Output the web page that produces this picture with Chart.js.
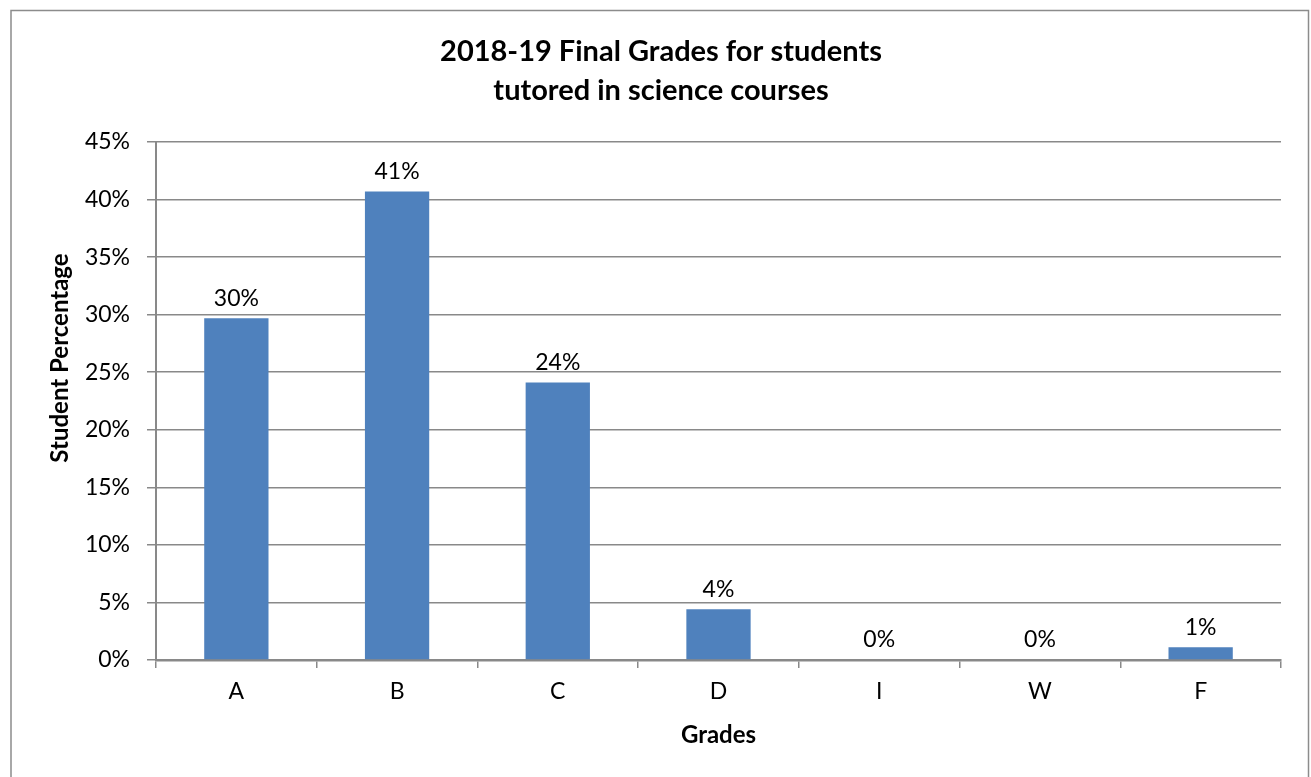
<!DOCTYPE html>
<html>
<head>
<meta charset="utf-8">
<script src="https://cdn.jsdelivr.net/npm/chart.js@4.4.1/dist/chart.umd.min.js"></script>
<style>
  html, body { margin: 0; padding: 0; background: #ffffff; }
  #wrap { position: relative; width: 1311px; height: 777px; }
  canvas { display: block; }
</style>
</head>
<body>
<div id="wrap"><canvas id="c" width="1311" height="777"></canvas></div>
<script>
const categories = ["A", "B", "C", "D", "I", "W", "F"];
const percentages = [29.7, 40.7, 24.1, 4.4, 0, 0, 1.1];
const yTicks = [0, 5, 10, 15, 20, 25, 30, 35, 40, 45];
const titleLines = ["2018-19 Final Grades for students", "tutored in science courses"];
const xTitle = "Grades";
const yTitle = "Student Percentage";

const FONT = "Lato, 'Open Sans', 'Liberation Sans', sans-serif";
const GRID = "#898989";

const frame = {
  id: "frame",
  beforeDraw(chart) {
    const ctx = chart.ctx;
    ctx.save();
    ctx.fillStyle = "#ffffff";
    ctx.fillRect(0, 0, chart.width, chart.height);
    ctx.strokeStyle = "#8c8c8c";
    ctx.lineWidth = 1.5;
    ctx.strokeRect(11, 10.5, 1297.5, 800);
    ctx.restore();
  }
};

const yAxisTitle = {
  id: "yAxisTitle",
  afterDraw(chart) {
    const ctx = chart.ctx;
    ctx.save();
    ctx.translate(60, 358);
    ctx.rotate(-Math.PI / 2);
    ctx.font = "bold 24px " + FONT;
    ctx.fillStyle = "#000000";
    ctx.textAlign = "center";
    ctx.textBaseline = "middle";
    ctx.fillText(yTitle, 0, 0);
    ctx.restore();
  }
};

const valueLabels = {
  id: "valueLabels",
  afterDatasetsDraw(chart) {
    const ctx = chart.ctx;
    const meta = chart.getDatasetMeta(0);
    ctx.save();
    ctx.font = "23px " + FONT;
    ctx.fillStyle = "#000000";
    ctx.textAlign = "center";
    ctx.textBaseline = "middle";
    meta.data.forEach((bar, i) => {
      const v = chart.data.datasets[0].data[i];
      ctx.fillText(Math.round(v) + "%", bar.x, bar.y - 20);
    });
    ctx.restore();
  }
};

new Chart(document.getElementById("c"), {
  type: "bar",
  data: {
    labels: categories,
    datasets: [{
      data: percentages,
      backgroundColor: "#4f81bd",
      borderWidth: 0,
      barPercentage: 0.4,
      categoryPercentage: 1.0
    }]
  },
  options: {
    responsive: false,
    animation: false,
    devicePixelRatio: 1,
    layout: { padding: { left: 11, right: 0, top: 0, bottom: 0 } },
    plugins: {
      legend: { display: false },
      tooltip: { enabled: false },
      title: {
        display: true,
        text: titleLines,
        color: "#000000",
        font: { family: FONT, size: 29, weight: "bold", lineHeight: 1.345 },
        padding: { top: 32, bottom: 32 }
      }
    },
    scales: {
      x: {
        offset: true,
        afterFit(scale) { scale.height = 117; },
        grid: {
          offset: true,
          drawOnChartArea: false,
          drawTicks: true,
          tickLength: 8,
          color: GRID,
          lineWidth: 1.5
        },
        border: { display: true, color: GRID, width: 2.5 },
        ticks: {
          color: "#000000",
          font: { family: FONT, size: 23 },
          padding: 10
        },
        title: {
          display: true,
          text: xTitle,
          color: "#000000",
          font: { family: FONT, size: 24, weight: "bold" },
          padding: { top: 0, bottom: 27 }
        }
      },
      y: {
        min: 0,
        max: 45,
        afterFit(scale) { scale.width = 145; },
        afterBuildTicks(scale) {
          scale.ticks = yTicks.map(v => ({ value: v }));
        },
        grid: {
          color: GRID,
          lineWidth: 1.5,
          drawTicks: true,
          tickLength: 9
        },
        border: { display: true, color: GRID, width: 2 },
        ticks: {
          color: "#000000",
          font: { family: FONT, size: 23 },
          padding: 17,
          callback: v => v + "%"
        }
      },
      yRight: {
        position: "right",
        display: true,
        min: 0,
        max: 45,
        afterFit(scale) { scale.width = 30; },
        grid: { display: false, drawOnChartArea: false, drawTicks: false },
        border: { display: false },
        ticks: { display: false }
      }
    }
  },
  plugins: [frame, valueLabels, yAxisTitle]
});
</script>
</body>
</html>
